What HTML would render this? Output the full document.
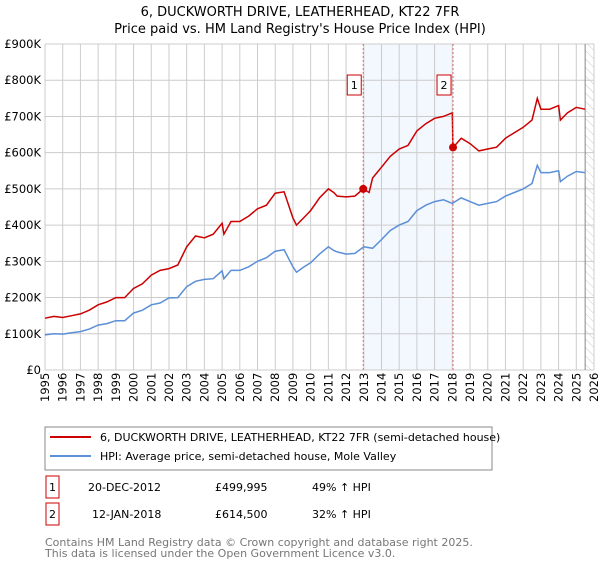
<!DOCTYPE html>
<html><head><meta charset="utf-8"><style>
body{margin:0;background:#fff;font-family:"Liberation Sans","DejaVu Sans",sans-serif;}
svg text{font-family:"DejaVu Sans","Liberation Sans",sans-serif;}
</style></head><body>
<svg id="c" width="600" height="560" xmlns="http://www.w3.org/2000/svg">
<defs><pattern id="hatch" width="6" height="6" patternUnits="userSpaceOnUse" patternTransform="rotate(-45)"><line x1="0" y1="0" x2="0" y2="6" stroke="#ccc" stroke-width="1"/></pattern></defs>
<text x="300" y="16" text-anchor="middle" font-size="13" fill="#000">6, DUCKWORTH DRIVE, LEATHERHEAD, KT22 7FR</text>
<text x="300" y="33" text-anchor="middle" font-size="13" fill="#000">Price paid vs. HM Land Registry's House Price Index (HPI)</text>
<g id="grid"></g><g id="marks"></g>
<rect x="45" y="427" width="447" height="43" fill="#fff" stroke="#888"/>
<line x1="50" y1="437" x2="91" y2="437" stroke="#cc0000" stroke-width="2"/>
<text x="100" y="441" font-size="11">6, DUCKWORTH DRIVE, LEATHERHEAD, KT22 7FR (semi-detached house)</text>
<line x1="50" y1="456" x2="91" y2="456" stroke="#5b8fd6" stroke-width="2"/>
<text x="100" y="460" font-size="11">HPI: Average price, semi-detached house, Mole Valley</text>
<rect x="46" y="476" width="13" height="22" fill="#fff" stroke="#cc0000"/>
<text x="52.5" y="491" font-size="11" text-anchor="middle">1</text>
<text x="88" y="491" font-size="11">20-DEC-2012</text>
<text x="215" y="491" font-size="11">£499,995</text>
<text x="312" y="491" font-size="11">49% ↑ HPI</text>
<rect x="46" y="503" width="13" height="22" fill="#fff" stroke="#cc0000"/>
<text x="52.5" y="518" font-size="11" text-anchor="middle">2</text>
<text x="92" y="518" font-size="11">12-JAN-2018</text>
<text x="215" y="518" font-size="11">£614,500</text>
<text x="312" y="518" font-size="11">32% ↑ HPI</text>
<text x="45" y="546" font-size="11" fill="#777">Contains HM Land Registry data © Crown copyright and database right 2025.</text>
<text x="45" y="557" font-size="11" fill="#777">This data is licensed under the Open Government Licence v3.0.</text>
</svg>
<script>
const years=[1995,1996,1997,1998,1999,2000,2001,2002,2003,2004,2005,2006,2007,2008,2009,2010,2011,2012,2013,2014,2015,2016,2017,2018,2019,2020,2021,2022,2023,2024,2025,2026];
const yTicks=[0,100,200,300,400,500,600,700,800,900];
const yTickLabels=["£0","£100K","£200K","£300K","£400K","£500K","£600K","£700K","£800K","£900K"];
const hpiT=[1995,1995.5,1996,1996.5,1997,1997.5,1998,1998.5,1999,1999.5,2000,2000.5,2001,2001.5,2002,2002.5,2003,2003.5,2004,2004.5,2005,2005.1,2005.5,2006,2006.5,2007,2007.5,2008,2008.5,2009,2009.2,2009.6,2010,2010.5,2011,2011.3,2011.5,2012,2012.5,2013,2013.5,2014,2014.5,2015,2015.5,2016,2016.5,2017,2017.5,2018,2018.5,2019,2019.5,2020,2020.5,2021,2021.5,2022,2022.5,2022.8,2023,2023.5,2024,2024.1,2024.5,2025,2025.5];
const hpiV=[97,100,99,103,106,113,124,128,136,136,157,165,180,185,199,200,230,245,250,252,274,252,275,275,285,300,310,328,332,285,270,284,296,320,340,330,326,320,322,340,336,360,385,400,410,440,455,465,470,460,475,465,455,460,465,480,490,500,515,565,545,545,550,520,535,548,545];
const propT=[1995,1995.5,1996,1996.5,1997,1997.5,1998,1998.5,1999,1999.5,2000,2000.5,2001,2001.5,2002,2002.5,2003,2003.5,2004,2004.5,2005,2005.1,2005.5,2006,2006.5,2007,2007.5,2008,2008.5,2009,2009.2,2009.6,2010,2010.5,2011,2011.3,2011.5,2012,2012.5,2012.97,2013.3,2013.5,2014,2014.5,2015,2015.5,2016,2016.5,2017,2017.5,2018.0,2018.04,2018.5,2019,2019.5,2020,2020.5,2021,2021.5,2022,2022.5,2022.8,2023,2023.5,2024,2024.1,2024.5,2025,2025.5];
const propV=[143,148,145,150,155,165,180,188,200,200,225,238,262,275,280,290,340,370,365,375,405,375,410,410,425,445,455,488,492,420,400,420,440,475,500,490,480,478,480,500,490,530,560,590,610,620,660,680,695,700,710,614,640,625,605,610,615,640,655,670,690,750,720,720,730,690,710,725,720];
const saleT=[2012.97,2018.04];
const saleV=[499.995,614.5];
const saleLabels=["1","2"];
const X0=45,X1=594,Y0=370,Y1=44;
const sx=t=>X0+(t-1995)/(2026-1995)*(X1-X0);
const sy=v=>Y0-v/900*(Y0-Y1);
const NS="http://www.w3.org/2000/svg";
function mk(tag,attrs,parent){const e=document.createElementNS(NS,tag);for(const k in attrs)e.setAttribute(k,attrs[k]);parent.appendChild(e);return e;}
const g=document.getElementById('grid'),m=document.getElementById('marks');
let sh=mk('rect',{x:sx(saleT[0]),y:Y1,width:sx(saleT[1])-sx(saleT[0]),height:Y0-Y1,fill:'#eef3fd',opacity:0.7},g);


let hz=mk('rect',{x:sx(2025.5),y:Y1,width:X1-sx(2025.5),height:Y0-Y1,fill:'url(#hatch)'},g);


yTicks.forEach((v,i)=>{
 mk('line',{x1:X0,x2:X1,y1:sy(v),y2:sy(v),stroke:'#ccc'},g);
 let t=mk('text',{x:X0-4,y:sy(v)+4,'text-anchor':'end','font-size':11.5},g);t.textContent=yTickLabels[i];
 
 
});
years.forEach(yr=>{
 mk('line',{x1:sx(yr),x2:sx(yr),y1:Y1,y2:Y0,stroke:'#ccc'},g);
 let t=mk('text',{x:0,y:0,'font-size':11.5,transform:`translate(${sx(yr)+4},${Y0+32}) rotate(-90)`},g);t.textContent=yr;
 
 
});
mk('line',{x1:sx(2025.5),x2:sx(2025.5),y1:Y1,y2:Y0,stroke:'#888'},g);
function path(T,V,col,name){let d=T.map((t,i)=>(i?'L':'M')+sx(t).toFixed(1)+','+sy(V[i]).toFixed(1)).join('');
 let p=mk('path',{d:d,fill:'none',stroke:col,'stroke-width':1.5},m);
 
 }
path(hpiT,hpiV,'#5b8fd6','hpi-line');
path(propT,propV,'#cc0000','property-line');
saleT.forEach((t,i)=>{
 let l=mk('line',{x1:sx(t),x2:sx(t),y1:Y1,y2:Y0,stroke:'#e66','stroke-dasharray':'2,2'},m);
 
 
 let c=mk('circle',{cx:sx(t),cy:sy(saleV[i]),r:4,fill:'#cc0000'},m);
 
 
 let b=mk('rect',{x:sx(t)-16,y:75,width:14,height:20,fill:'#fff',stroke:'#cc0000'},m);
 
 
 let tx=mk('text',{x:sx(t)-9,y:89,'font-size':11,'text-anchor':'middle'},m);tx.textContent=saleLabels[i];
});
</script>
</body></html>
